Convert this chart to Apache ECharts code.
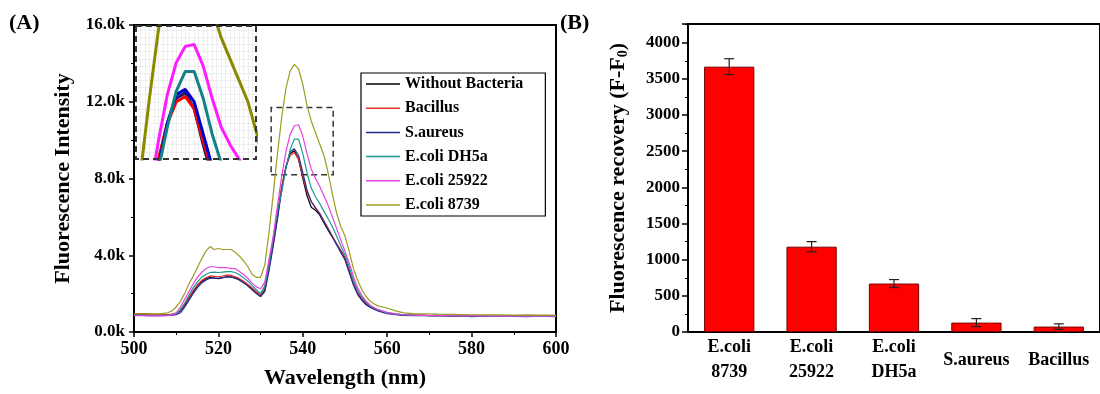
<!DOCTYPE html>
<html>
<head>
<meta charset="utf-8">
<script src="https://cdn.jsdelivr.net/npm/echarts@6/dist/echarts.min.js"></script>
<style>html,body{margin:0;padding:0;background:#fff}#c{width:1100px;height:394px}</style>
</head>
<body>
<div id="c"></div>
<script>
// ---------- Panel A data: fluorescence spectra ----------
const wavelengths = [500,502,504,506,508,509,510,511,512,513,514,515,516,517,518,519,520,521,522,523,524,525,526,527,528,529,530,531,532,533,534,535,536,537,538,539,540,541,542,543,544,545,546,547,548,549,550,551,552,553,554,555,556,557,558,560,562,564,566,568,570,572,575,578,580,583,586,590,593,596,600];

const withoutBacteria = [900,900,880,870,890,920,960,1100,1400,1750,2100,2400,2620,2760,2850,2800,2780,2830,2880,2880,2820,2720,2580,2420,2230,2030,1850,2200,3300,4600,6000,7500,8600,9300,9450,9000,8000,7100,6500,6350,6100,5700,5300,4950,4600,4250,3850,3200,2500,2000,1700,1450,1300,1200,1100,1000,930,890,880,870,860,870,850,860,840,850,830,840,820,830,820];
const bacillus = [950,960,940,900,900,930,980,1150,1450,1800,2150,2450,2680,2830,2920,2900,2880,2920,2960,2950,2880,2780,2640,2480,2300,2100,1950,2400,3500,4800,6200,7600,8600,9200,9350,9000,8100,7300,6800,6500,6200,5800,5400,5000,4600,4200,3800,3200,2550,2050,1750,1500,1330,1220,1120,1000,920,880,870,880,850,860,850,840,850,840,850,830,840,820,830];
const sAureus = [860,860,850,850,860,870,900,1000,1300,1650,2000,2300,2550,2700,2800,2820,2800,2830,2860,2860,2800,2700,2560,2400,2200,2000,1850,2100,3200,4500,5900,7400,8600,9400,9550,9200,8300,7400,6800,6450,6150,5750,5350,4950,4550,4150,3750,3100,2450,1950,1650,1420,1280,1170,1080,960,900,870,850,860,840,850,830,840,800,830,820,810,800,820,800];
const eColiDH5a = [880,880,870,870,880,900,960,1150,1500,1900,2300,2600,2850,3000,3100,3120,3100,3120,3150,3150,3100,2980,2820,2650,2420,2200,2000,2400,3500,4900,6300,7300,8500,9500,10050,10050,9300,8300,7500,7050,6700,6300,5900,5500,5000,4500,4000,3400,2700,2150,1800,1550,1350,1250,1150,1000,930,900,880,870,860,870,850,860,850,840,850,840,830,840,830];
const eColi25922 = [850,850,840,840,850,880,1000,1300,1700,2100,2500,2850,3100,3300,3400,3400,3350,3350,3350,3300,3300,3150,3000,2800,2550,2350,2250,2600,3800,5000,6600,8100,9400,10300,10750,10800,10200,9300,8500,8000,7600,7100,6600,6000,5400,4800,4200,3600,2900,2300,1900,1600,1400,1250,1150,1020,940,900,880,870,860,850,860,840,850,830,840,830,840,820,830];
const eColi8739 = [950,950,940,950,1000,1100,1300,1600,2000,2500,2900,3350,3800,4200,4450,4300,4350,4300,4300,4300,4150,3950,3700,3400,3000,2850,2850,3500,5200,7200,9300,11200,12700,13600,13950,13700,12900,11800,11000,10400,9800,9200,8300,7200,6200,5500,5000,4200,3300,2700,2200,1850,1600,1450,1350,1250,1100,1000,960,950,940,930,920,910,900,890,900,880,890,880,880];

const spectraNames = ['Without Bacteria','Bacillus','S.aureus','E.coli DH5a','E.coli 25922','E.coli 8739'];
const spectraValues = [withoutBacteria, bacillus, sAureus, eColiDH5a, eColi25922, eColi8739];
const spectraColors = ['#000000','#e0302c','#2b2b8f','#1f9696','#e244e2','#9c9c1e'];
const insetColors = ['#1a1a6e','#ff0000','#0000c8','#148282','#ff1aff','#8a8a00'];

// zoomed region (dashed box in main plot) and inset axis ranges
const zoomBox = [[532.5, 8200],[547.2, 11700]];
const insetX = [532.5, 545.9];
const insetY = [7600, 11320];

// ---------- Panel B data: fluorescence recovery ----------
const bacteriaCats = ['E.coli\n8739','E.coli\n25922','E.coli\nDH5a','S.aureus','Bacillus'];
const recovery = [3670, 1180, 670, 130, 75];
const recoveryErr = [110, 70, 55, 55, 38];

const FONT = "'Liberation Serif','Times New Roman',serif";
const pair = ys => wavelengths.map((w, i) => [w, ys[i]]);

const series = [];
spectraNames.forEach((n, i) => {
  const s = {
    name: n, type: 'line', xAxisIndex: 0, yAxisIndex: 0,
    data: pair(spectraValues[i]), symbol: 'none', z: 2,
    lineStyle: { color: spectraColors[i], width: 1.2 },
    itemStyle: { color: spectraColors[i] }
  };
  if (i === 0) {
    s.markArea = {
      silent: true,
      itemStyle: { color: 'rgba(0,0,0,0)', borderColor: '#333', borderWidth: 1.5, borderType: [6, 4] },
      data: [[{ coord: zoomBox[0] }, { coord: zoomBox[1] }]]
    };
  }
  series.push(s);
});
spectraNames.forEach((n, i) => {
  series.push({
    name: n, type: 'line', xAxisIndex: 1, yAxisIndex: 1,
    data: pair(spectraValues[i]), symbol: 'none', z: 6, clip: true,
    lineStyle: { color: insetColors[i], width: 3 },
    itemStyle: { color: spectraColors[i] }
  });
});
// bars
series.push({
  type: 'bar', xAxisIndex: 2, yAxisIndex: 2, data: recovery, barWidth: '61%',
  itemStyle: { color: '#ff0000', borderColor: '#7a0000', borderWidth: 1 }, z: 2
});
series.push({
  type: 'custom', xAxisIndex: 2, yAxisIndex: 2, z: 3,
  data: recovery.map((v, i) => [i, v - recoveryErr[i], v + recoveryErr[i]]),
  renderItem: function (params, api) {
    const lo = api.coord([api.value(0), api.value(1)]);
    const hi = api.coord([api.value(0), api.value(2)]);
    const w = 5;
    const st = { stroke: '#222', lineWidth: 1.2 };
    return { type: 'group', children: [
      { type: 'line', shape: { x1: hi[0], y1: hi[1], x2: lo[0], y2: lo[1] }, style: st },
      { type: 'line', shape: { x1: hi[0] - w, y1: hi[1], x2: hi[0] + w, y2: hi[1] }, style: st },
      { type: 'line', shape: { x1: lo[0] - w, y1: lo[1], x2: lo[0] + w, y2: lo[1] }, style: st }
    ]};
  }
});

const lbl = size => ({ color: '#000', fontFamily: FONT, fontWeight: 'bold', fontSize: size });
const nameStyle = { color: '#000', fontFamily: FONT, fontWeight: 'bold', fontSize: 22 };

const option = {
  animation: false,
  backgroundColor: '#fff',
  textStyle: { fontFamily: FONT },
  grid: [
    { left: 134, top: 25, width: 422, height: 310, show: true, borderColor: '#000', borderWidth: 2, backgroundColor: 'transparent', z: 0 },
    { left: 136, top: 26, width: 120, height: 133, show: true, borderWidth: 0, backgroundColor: '#fff', z: 5 },
    { left: 688, top: 24, width: 413, height: 308, show: true, borderColor: '#000', borderWidth: 2, backgroundColor: 'transparent', z: 0 }
  ],
  xAxis: [
    { type: 'value', gridIndex: 0, min: 500, max: 600, interval: 20,
      name: 'Wavelength (nm)', nameLocation: 'middle', nameGap: 35, nameTextStyle: nameStyle,
      axisLine: { lineStyle: { color: '#000', width: 2 } },
      axisTick: { length: 5, lineStyle: { color: '#000', width: 1.5 } },
      minorTick: { show: true, splitNumber: 2, length: 3, lineStyle: { color: '#000' } },
      splitLine: { show: false }, axisLabel: Object.assign({ margin: 8 }, lbl(18)) },
    { type: 'value', gridIndex: 1, min: insetX[0], max: insetX[1], interval: 0.5, z: 6,
      axisLine: { show: false }, axisTick: { show: false }, axisLabel: { show: false },
      splitLine: { show: true, lineStyle: { color: '#e4e4e4', width: 0.6 } } },
    { type: 'category', gridIndex: 2, data: bacteriaCats,
      axisLine: { lineStyle: { color: '#000', width: 2 } },
      axisTick: { alignWithLabel: true, length: 6, lineStyle: { color: '#000', width: 1.5 } },
      axisLabel: Object.assign({ margin: 3, interval: 0, lineHeight: 25,
        formatter: v => v.indexOf('\n') >= 0 ? v : '{one|' + v + '}',
        rich: { one: { fontFamily: FONT, fontWeight: 'bold', fontSize: 18, color: '#000', lineHeight: 50 } } }, lbl(18)) }
  ],
  yAxis: [
    { type: 'value', gridIndex: 0, min: 0, max: 16000, interval: 4000,
      name: 'Fluorescence Intensity', nameLocation: 'middle', nameGap: 60, nameTextStyle: nameStyle,
      axisLine: { show: true, lineStyle: { color: '#000', width: 2 } },
      axisTick: { show: true, length: 5, lineStyle: { color: '#000', width: 1.5 } },
      minorTick: { show: true, splitNumber: 2, length: 3, lineStyle: { color: '#000' } },
      splitLine: { show: false },
      axisLabel: Object.assign({ margin: 9, formatter: v => (v / 1000).toFixed(1) + 'k' }, lbl(17)) },
    { type: 'value', gridIndex: 1, min: insetY[0], max: insetY[1], interval: 200, z: 6,
      axisLine: { show: false }, axisTick: { show: false }, axisLabel: { show: false },
      splitLine: { show: true, lineStyle: { color: '#e4e4e4', width: 0.6 } } },
    { type: 'value', gridIndex: 2, min: 0, max: 4260, interval: 500,
      name: 'Fluorescence recovery (F-F{sub|0})', nameLocation: 'middle', nameGap: 58,
      nameTextStyle: Object.assign({ rich: { sub: { fontFamily: FONT, fontWeight: 'bold', fontSize: 14, color: '#000', verticalAlign: 'bottom', padding: [9, 0, 0, 0] } } }, nameStyle),
      axisLine: { show: true, lineStyle: { color: '#000', width: 2 } },
      axisTick: { show: true, length: 6, lineStyle: { color: '#000', width: 1.5 } },
      minorTick: { show: true, splitNumber: 2, length: 3, lineStyle: { color: '#000' } },
      splitLine: { show: false },
      axisLabel: Object.assign({ margin: 8, formatter: v => (v % 500 === 0 ? String(v) : '') }, lbl(17)) }
  ],
  legend: {
    data: spectraNames, orient: 'vertical', left: 361, top: 73, icon: 'rect',
    backgroundColor: '#fff', borderColor: '#000', borderWidth: 1.2,
    padding: [3, 22, 3, 5], itemGap: 8.2, itemWidth: 34, itemHeight: 1.5,
    textStyle: { fontFamily: FONT, fontWeight: 'bold', fontSize: 16, color: '#000', lineHeight: 16, height: 16 }
  },
  graphic: [
    { type: 'rect', z: 100, shape: { x: 136, y: 26, width: 120, height: 133 },
      style: { fill: 'none', stroke: '#333', lineWidth: 2, lineDash: [6, 4] } },
    { type: 'text', left: 9, top: 12, z: 100,
      style: { text: '(A)', font: "bold 22px 'Liberation Serif', serif", fill: '#000' } },
    { type: 'text', left: 560, top: 12, z: 100,
      style: { text: '(B)', font: "bold 22px 'Liberation Serif', serif", fill: '#000' } }
  ],
  series: series
};

const chart = echarts.init(document.getElementById('c'), null, { renderer: 'canvas' });
chart.setOption(option);
</script>
</body>
</html>
